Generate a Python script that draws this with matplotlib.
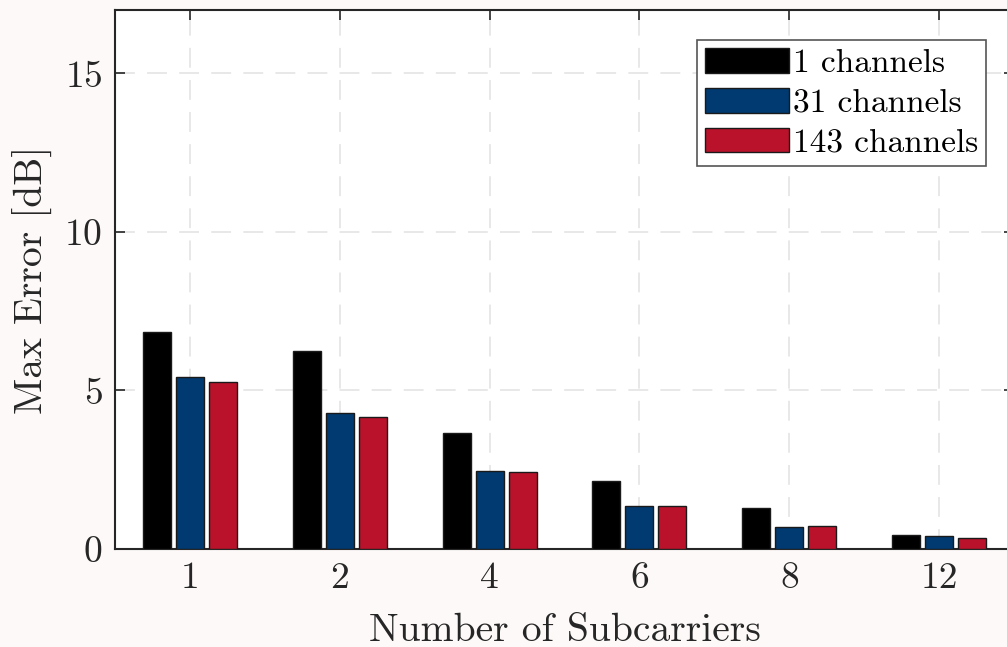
import numpy as np
import matplotlib.pyplot as plt

plt.rcParams['font.family'] = 'serif'
plt.rcParams['font.serif'] = ['cmr10', 'DejaVu Serif']
plt.rcParams['mathtext.fontset'] = 'cm'
plt.rcParams['axes.formatter.use_mathtext'] = True

subcarriers = ['1', '2', '4', '6', '8', '12']
ch1 = [6.83, 6.25, 3.65, 2.13, 1.28, 0.44]
ch31 = [5.43, 4.30, 2.45, 1.37, 0.68, 0.40]
ch143 = [5.28, 4.17, 2.42, 1.37, 0.72, 0.34]

series = [('1 channels', ch1, '#000000'),
          ('31 channels', ch31, '#003a70'),
          ('143 channels', ch143, '#ba122b')]

fig = plt.figure(figsize=(10.07, 6.47), dpi=100)
fig.patch.set_facecolor('#fdf9f8')
ax = fig.add_axes([115/1007, 98/647, 899/1007, 539/647])

x = np.arange(1, len(subcarriers) + 1)
step = 0.22
width = 0.187
for i, (name, vals, col) in enumerate(series):
    ax.bar(x + (i - 1) * step, vals, width, color=col, edgecolor='#1a1a1a',
           linewidth=1.0, label=name, zorder=3)

ax.set_xlim(0.5, 6.5)
ax.set_ylim(0, 17)
ax.set_xticks(x)
ax.set_xticklabels(subcarriers)
ax.set_yticks([0, 5, 10, 15])

ax.grid(True, linestyle=(0, (13, 8)), color='#e2e2e2', linewidth=1.1, zorder=0)
ax.tick_params(direction='in', length=7, width=1.2, colors='#262626',
               labelsize=27, top=True, right=True, pad=9)
for s in ax.spines.values():
    s.set_color('#262626')
    s.set_linewidth(1.5)

ax.set_xlabel('Number of Subcarriers', fontsize=28.5, color='#262626', labelpad=13)
ax.set_ylabel('Max Error [dB]', fontsize=28.5, color='#262626', labelpad=8)

leg = ax.legend(loc='upper left', bbox_to_anchor=(582/899, 1 - 30/539),
                fontsize=24, fancybox=False, framealpha=1, edgecolor='#555555',
                handlelength=2.5, handleheight=0.75, handletextpad=0.12,
                labelspacing=0.3, borderpad=0.25, borderaxespad=0)
leg.get_frame().set_linewidth(1.2)

fig.savefig('out.png', dpi=100, facecolor=fig.get_facecolor())
